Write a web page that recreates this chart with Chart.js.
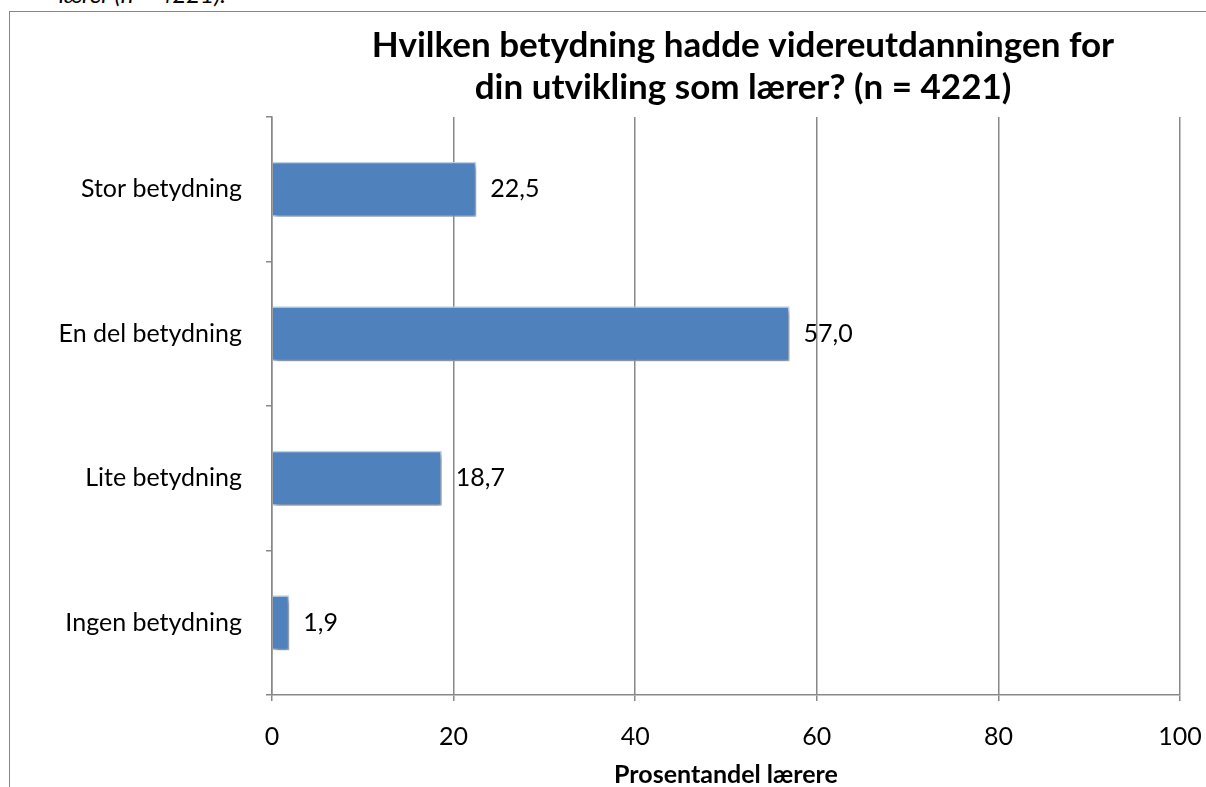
<!DOCTYPE html>
<html><head><meta charset="utf-8">
<script src="https://cdn.jsdelivr.net/npm/chart.js@4/dist/chart.umd.min.js"></script>
<style>
html,body{margin:0;padding:0;background:#fff;width:1206px;height:787px;overflow:hidden;position:relative}
#cap{position:absolute;left:0;top:-18px;width:226px;text-align:right;white-space:nowrap;font:italic 24px Lato;line-height:24px;color:#000}
#frame{position:absolute;left:9px;top:11px;width:1300px;height:900px;border-left:1.5px solid #888;border-top:1.5px solid #888}
#wrap{position:absolute;left:0;top:0;width:1206px;height:787px}
</style></head><body>
<div id="cap">lærer (n = 4221).</div>
<div id="frame"></div>
<div id="wrap"><canvas id="c"></canvas></div>
<script>
const categories = ['Stor betydning', 'En del betydning', 'Lite betydning', 'Ingen betydning'];
const values = [22.5, 57.0, 18.7, 1.9];
const xTicks = [0, 20, 40, 60, 80, 100];
const titleLines = ['Hvilken betydning hadde videreutdanningen for', 'din utvikling som lærer? (n = 4221)'];
const xTitle = 'Prosentandel lærere';

const FONT = 'Lato';
const GRID = '#888888';

const titlePlugin = {
  id: 'titleText',
  afterDraw(chart) {
    const ctx = chart.ctx;
    ctx.save();
    ctx.font = 'bold 35px ' + FONT;
    ctx.fillStyle = '#000';
    ctx.textAlign = 'center';
    ctx.textBaseline = 'alphabetic';
    ctx.fillText(titleLines[0], 743, 57);
    ctx.fillText(titleLines[1], 743, 99);
    ctx.restore();
  }
};

const shadowPlugin = {
  id: 'barShadow',
  beforeDatasetDraw(chart) {
    const ctx = chart.ctx;
    ctx.save();
    ctx.shadowColor = 'rgba(0,0,0,0.4)';
    ctx.shadowBlur = 5;
    ctx.shadowOffsetX = 2;
    ctx.shadowOffsetY = 3;
  },
  afterDatasetDraw(chart) {
    chart.ctx.restore();
  }
};

const labelPlugin = {
  id: 'valueLabels',
  afterDatasetsDraw(chart) {
    const ctx = chart.ctx;
    const meta = chart.getDatasetMeta(0);
    ctx.save();
    ctx.font = '25px ' + FONT;
    ctx.fillStyle = '#000';
    ctx.textAlign = 'left';
    ctx.textBaseline = 'middle';
    meta.data.forEach((bar, i) => {
      ctx.fillText(values[i].toFixed(1).replace('.', ','), bar.x + 14, bar.y);
    });
    ctx.restore();
  }
};

new Chart(document.getElementById('c'), {
  type: 'bar',
  data: {
    labels: categories,
    datasets: [{
      data: values,
      backgroundColor: '#4F81BD',
      borderColor: '#c5d5ea',
      borderWidth: 1.5,
      barPercentage: 0.38,
      categoryPercentage: 1
    }]
  },
  options: {
    indexAxis: 'y',
    responsive: true,
    maintainAspectRatio: false,
    animation: false,
    layout: { padding: { top: 117, right: 26, left: 0, bottom: 0 } },
    plugins: { legend: { display: false }, title: { display: false }, tooltip: { enabled: false } },
    scales: {
      x: {
        min: 0, max: 100,
        afterBuildTicks(s) { s.ticks = xTicks.map(v => ({ value: v })); },
        afterFit(s) { s.height = 92; s.paddingLeft = 0; s.paddingRight = 0; },
        ticks: { padding: 21, color: '#000', font: { family: FONT, size: 25 } },
        grid: { color: GRID, lineWidth: 1.5, tickLength: 6, drawTicks: true },
        border: { display: true, color: GRID, width: 1.5 },
        title: { display: true, text: xTitle, color: '#000', font: { family: FONT, size: 25, weight: 'bold', lineHeight: 1.0 }, padding: { top: 0, bottom: 0 } }
      },
      y: {
        afterFit(s) { s.width = 272; },
        ticks: { padding: 24, color: '#000', font: { family: FONT, size: 25 } },
        grid: { offset: true, drawOnChartArea: false, drawTicks: true, tickLength: 6, color: GRID, lineWidth: 1.5 },
        border: { display: true, color: GRID, width: 1.5 }
      }
    }
  },
  plugins: [titlePlugin, shadowPlugin, labelPlugin]
});
</script>
</body></html>
